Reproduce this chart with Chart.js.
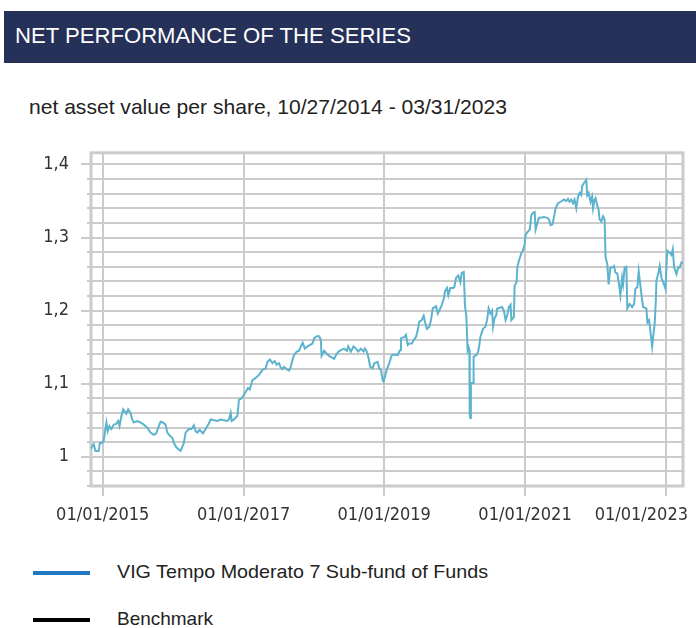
<!DOCTYPE html>
<html>
<head>
<meta charset="utf-8">
<script src="https://cdn.jsdelivr.net/npm/chart.js@4/dist/chart.umd.min.js"></script>
<style>
html,body{margin:0;padding:0;background:#fff;width:696px;height:628px;overflow:hidden;}
#hdr{position:absolute;left:4px;top:11px;width:692px;height:52px;background:#253158;}
.fit{display:inline-block;transform-origin:0 0;white-space:nowrap;}
#title{position:absolute;left:15px;top:25px;margin:0;color:#fff;font:22px/22px "Liberation Sans","DejaVu Sans",sans-serif;}
#sub{position:absolute;left:29px;top:96px;color:#222;font:21px/21px "Liberation Sans","DejaVu Sans",sans-serif;}
#wrap{position:absolute;left:0;top:130px;width:696px;height:410px;}
.lg{position:absolute;left:0;width:696px;height:19px;}
.lg i{position:absolute;left:33px;top:9px;width:57px;height:4px;}
.lg span{position:absolute;left:117px;top:0;font:19px/19px "Liberation Sans","DejaVu Sans",sans-serif;color:#222;}
</style>
</head>
<body>
<div id="hdr"></div>
<div id="title" class="fit" data-w="396">NET PERFORMANCE OF THE SERIES</div>
<div id="sub" class="fit" data-w="478">net asset value per share, 10/27/2014 - 03/31/2023</div>
<div id="wrap"><canvas id="c" width="696" height="410"></canvas></div>
<div id="legend"></div>
<script>
const seriesNames = ['VIG Tempo Moderato 7 Sub-fund of Funds', 'Benchmark'];
const legendWidths = [371, 96];
const dates = [
'2014-10-27','2014-11-15','2014-11-24','2014-12-11','2014-12-17','2014-12-29','2015-01-06','2015-01-15','2015-01-20','2015-01-27',
'2015-02-05','2015-02-15','2015-02-27','2015-03-12','2015-03-22','2015-03-29','2015-04-08','2015-04-17','2015-04-25','2015-05-03',
'2015-05-13','2015-05-25','2015-06-03','2015-06-11','2015-06-29','2015-07-16','2015-08-02','2015-08-20','2015-09-06','2015-09-23',
'2015-10-06','2015-10-16','2015-10-28','2015-11-09','2015-11-23','2015-12-02','2015-12-14','2015-12-28','2016-01-05','2016-01-18',
'2016-01-31','2016-02-09','2016-02-18','2016-02-26','2016-03-06','2016-03-23','2016-04-06','2016-04-18','2016-04-27','2016-05-06',
'2016-05-18','2016-06-04','2016-06-18','2016-07-02','2016-07-14','2016-07-31','2016-08-18','2016-09-04','2016-09-21','2016-10-09',
'2016-10-17','2016-10-26','2016-10-31','2016-11-12','2016-11-30','2016-12-08','2016-12-22','2017-01-03','2017-01-24','2017-02-02',
'2017-02-16','2017-03-05','2017-03-22','2017-04-09','2017-04-26','2017-05-05','2017-05-18','2017-05-31','2017-06-12','2017-06-22',
'2017-07-04','2017-07-13','2017-07-22','2017-07-30','2017-08-13','2017-08-25','2017-09-03','2017-09-12','2017-09-20','2017-10-04',
'2017-10-16','2017-10-25','2017-11-04','2017-11-15','2017-11-29','2017-12-12','2017-12-25','2018-01-02','2018-01-16','2018-01-28',
'2018-02-06','2018-02-10','2018-02-23','2018-03-09','2018-03-21','2018-04-03','2018-04-16','2018-04-25','2018-05-09','2018-05-21',
'2018-06-07','2018-06-21','2018-06-28','2018-07-12','2018-07-26','2018-08-07','2018-08-19','2018-09-02','2018-09-16','2018-09-23',
'2018-10-03','2018-10-12','2018-10-20','2018-11-02','2018-11-10','2018-11-28','2018-12-06','2018-12-15','2018-12-24','2018-12-29',
'2019-01-05','2019-01-14','2019-01-27','2019-02-09','2019-02-22','2019-03-12','2019-03-20','2019-03-26','2019-03-29','2019-04-16',
'2019-04-24','2019-05-03','2019-05-11','2019-05-25','2019-06-06','2019-06-15','2019-06-24','2019-07-02','2019-07-15','2019-07-25',
'2019-08-01','2019-08-11','2019-08-23','2019-09-01','2019-09-10','2019-09-27','2019-10-06','2019-10-14','2019-10-27','2019-11-06',
'2019-11-13','2019-11-23','2019-11-30','2019-12-10','2019-12-23','2019-12-31','2020-01-09','2020-01-21','2020-01-31','2020-02-08',
'2020-02-18','2020-02-24','2020-03-02','2020-03-09','2020-03-14','2020-03-18','2020-03-20','2020-03-23','2020-03-26','2020-04-06',
'2020-04-09','2020-04-23','2020-05-03','2020-05-10','2020-05-14','2020-05-28','2020-06-09','2020-06-18','2020-06-26','2020-07-05',
'2020-07-14','2020-07-19','2020-07-26','2020-08-05','2020-08-09','2020-08-23','2020-09-04','2020-09-13','2020-09-22','2020-10-01',
'2020-10-09','2020-10-18','2020-10-22','2020-11-04','2020-11-08','2020-11-18','2020-11-22','2020-11-30','2020-12-13','2020-12-21',
'2020-12-30','2021-01-04','2021-01-13','2021-01-26','2021-02-03','2021-02-11','2021-02-20','2021-02-25','2021-03-06','2021-03-14',
'2021-03-23','2021-04-09','2021-04-27','2021-05-05','2021-05-14','2021-05-23','2021-06-01','2021-06-09','2021-06-21','2021-07-05',
'2021-07-22','2021-08-03','2021-08-12','2021-08-20','2021-08-29','2021-09-07','2021-09-15','2021-09-24','2021-10-03','2021-10-11',
'2021-10-20','2021-10-24','2021-11-01','2021-11-10','2021-11-15','2021-11-20','2021-11-27','2021-12-07','2021-12-15','2021-12-20',
'2021-12-28','2022-01-02','2022-01-11','2022-01-18','2022-01-23','2022-02-01','2022-02-10','2022-02-18','2022-02-23','2022-03-04',
'2022-03-11','2022-03-20','2022-03-29','2022-04-08','2022-04-15','2022-04-25','2022-05-04','2022-05-11','2022-05-20','2022-05-25',
'2022-06-02','2022-06-11','2022-06-16','2022-06-28','2022-07-11','2022-07-21','2022-07-28','2022-08-07','2022-08-14','2022-08-23',
'2022-09-01','2022-09-06','2022-09-23','2022-09-28','2022-10-07','2022-10-15','2022-10-23','2022-10-29','2022-11-05','2022-11-11',
'2022-11-14','2022-11-23','2022-12-01','2022-12-10','2022-12-19','2022-12-31','2023-01-09','2023-01-22','2023-01-31','2023-02-07',
'2023-02-14','2023-02-26','2023-03-07','2023-03-15','2023-03-24','2023-03-31'
];
const navValues = [
1.010,1.017,1.008,1.008,1.019,1.019,1.022,1.038,1.047,1.035,
1.042,1.038,1.044,1.045,1.049,1.042,1.056,1.065,1.062,1.059,
1.065,1.060,1.051,1.047,1.049,1.047,1.044,1.040,1.033,1.030,
1.032,1.040,1.048,1.047,1.044,1.033,1.029,1.026,1.019,1.013,
1.010,1.008,1.014,1.019,1.033,1.038,1.038,1.043,1.035,1.033,
1.037,1.032,1.038,1.044,1.051,1.050,1.049,1.051,1.050,1.049,
1.051,1.060,1.049,1.051,1.056,1.078,1.080,1.085,1.094,1.092,
1.105,1.108,1.112,1.119,1.121,1.130,1.133,1.128,1.131,1.126,
1.128,1.122,1.120,1.123,1.120,1.118,1.123,1.133,1.139,1.144,
1.145,1.151,1.156,1.148,1.151,1.153,1.155,1.162,1.165,1.165,
1.160,1.138,1.145,1.141,1.138,1.136,1.134,1.139,1.144,1.146,
1.148,1.145,1.151,1.144,1.151,1.148,1.144,1.148,1.144,1.148,
1.144,1.135,1.123,1.121,1.128,1.130,1.121,1.119,1.105,1.103,
1.110,1.119,1.128,1.139,1.140,1.139,1.144,1.146,1.162,1.164,
1.167,1.153,1.155,1.155,1.161,1.164,1.173,1.185,1.187,1.193,
1.184,1.175,1.178,1.187,1.203,1.206,1.196,1.200,1.208,1.216,
1.227,1.231,1.221,1.231,1.231,1.232,1.245,1.248,1.239,1.252,
1.253,1.207,1.194,1.146,1.150,1.146,1.058,1.053,1.101,1.101,
1.137,1.139,1.144,1.155,1.164,1.175,1.178,1.187,1.203,1.196,
1.200,1.178,1.189,1.194,1.203,1.204,1.205,1.200,1.187,1.194,
1.205,1.208,1.187,1.191,1.234,1.239,1.259,1.268,1.279,1.282,
1.291,1.304,1.307,1.311,1.331,1.334,1.335,1.311,1.320,1.327,
1.327,1.328,1.327,1.325,1.317,1.318,1.329,1.340,1.347,1.349,
1.352,1.350,1.353,1.349,1.352,1.347,1.352,1.340,1.356,1.361,
1.358,1.370,1.374,1.377,1.379,1.358,1.361,1.349,1.356,1.340,
1.352,1.354,1.344,1.338,1.325,1.322,1.329,1.325,1.273,1.264,
1.236,1.259,1.259,1.261,1.252,1.251,1.236,1.221,1.245,1.236,
1.259,1.260,1.203,1.209,1.205,1.209,1.230,1.232,1.254,1.234,
1.214,1.205,1.203,1.184,1.187,1.169,1.151,1.166,1.182,1.214,
1.241,1.250,1.261,1.245,1.239,1.230,1.282,1.279,1.276,1.284,
1.259,1.250,1.259,1.259,1.266,1.265
];
const benchmarkValues = [];
const xTickDates = ['2015-01-01','2017-01-01','2019-01-01','2021-01-01','2023-01-01'];
const yGridValues = [0.96,0.98,1.00,1.02,1.04,1.06,1.08,1.10,1.12,1.14,1.16,1.18,1.20,1.22,1.24,1.26,1.28,1.30,1.32,1.34,1.36,1.38,1.40];
const yLabelValues = [1.0,1.1,1.2,1.3,1.4];
const yTickLabels = ['1','1,1','1,2','1,3','1,4'];
const xMin = '2014-11-01', xMax = '2023-04-01';
const yMin = 0.96, yMax = 1.416;

function ts(s){const p=s.split('-').map(Number);return Date.UTC(p[0],p[1]-1,p[2]);}
function pad(n){return (n<10?'0':'')+n;}
function fmtDate(t){const d=new Date(t);return pad(d.getUTCMonth()+1)+'/'+pad(d.getUTCDate())+'/'+d.getUTCFullYear();}
function labelIndex(v){for(let i=0;i<yLabelValues.length;i++){if(Math.abs(v-yLabelValues[i])<1e-6)return i;}return -1;}
function fitWidth(el, w){const cur = el.getBoundingClientRect().width; if(cur>0) el.style.transform='scaleX('+(w/cur)+')';}

const GRID='#cbcbcb';
const framePlugin = {
  id:'frame',
  beforeDraw(chart){
    const s = chart.scales.x;
    const items = s.getLabelItems(chart.chartArea);
    if(items.length){
      const last = items[items.length-1];
      last.options.textAlign = 'right';
      last.options.translation = [chart.width-8, last.options.translation[1]];
    }
  },
  beforeDatasetsDraw(chart){
    const {ctx, chartArea:a} = chart;
    const y = chart.scales.y;
    ctx.save();
    ctx.strokeStyle = GRID;
    ctx.lineWidth = 2;
    yGridValues.forEach(v=>{
      if(labelIndex(v)<0){
        const py = Math.round(y.getPixelForValue(v));
        ctx.beginPath();ctx.moveTo(a.left-4,py);ctx.lineTo(a.left,py);ctx.stroke();
      }
    });
    ctx.lineWidth = 3;
    ctx.strokeRect(a.left, a.top, a.right-a.left, a.bottom-a.top);
    ctx.restore();
  }
};

const chart = new Chart(document.getElementById('c'), {
  type:'line',
  data:{datasets:[
    {label:seriesNames[0], data:dates.map((d,i)=>({x:ts(d),y:navValues[i]})), borderColor:'#5cb3cd', borderWidth:2, pointRadius:0, tension:0, legendColor:'#1f78c1'},
    {label:seriesNames[1], data:benchmarkValues, borderColor:'#000000', borderWidth:2, pointRadius:0, legendColor:'#000000'}
  ]},
  options:{
    responsive:false, animation:false, devicePixelRatio:1,
    layout:{padding:{top:19,right:13,left:0,bottom:0}},
    plugins:{legend:{display:false}, tooltip:{enabled:false}},
    scales:{
      x:{type:'linear', min:ts(xMin), max:ts(xMax),
        afterBuildTicks(s){s.ticks = xTickDates.map(d=>({value:ts(d)}));},
        afterFit(s){s.height=54; s.paddingRight=0; s.paddingLeft=0;},
        grid:{color:GRID, lineWidth:2, tickLength:10, tickColor:GRID},
        border:{display:false},
        ticks:{font:{family:'DejaVu Sans Condensed', size:18}, color:'#333', padding:9, maxRotation:0, minRotation:0, autoSkip:false,
          callback:(v)=>fmtDate(v)}
      },
      y:{type:'linear', min:yMin, max:yMax,
        afterBuildTicks(s){s.ticks = yGridValues.map(v=>({value:v}));},
        afterFit(s){s.width=91;},
        grid:{color:GRID, lineWidth:2, tickLength:10, tickColor:(c)=> (c.tick && labelIndex(c.tick.value)>=0) ? GRID : 'rgba(0,0,0,0)'},
        border:{display:false},
        ticks:{font:{family:'DejaVu Sans Condensed', size:18}, color:'#333', padding:12, autoSkip:false,
          callback:(v)=>{const i=labelIndex(v);return i>=0?yTickLabels[i]:'';}}
      }
    }
  },
  plugins:[framePlugin]
});

const lg = document.getElementById('legend');
const tops = [562, 609];
chart.data.datasets.forEach((ds,i)=>{
  const row = document.createElement('div');
  row.className='lg'; row.style.top = tops[i]+'px';
  const mark = document.createElement('i'); mark.style.background = ds.legendColor;
  const txt = document.createElement('span'); txt.className='fit'; txt.textContent = ds.label;
  row.appendChild(mark); row.appendChild(txt); lg.appendChild(row);
  fitWidth(txt, legendWidths[i]);
});
document.querySelectorAll('#title,#sub').forEach(el=>fitWidth(el, Number(el.dataset.w)));
</script>
</body>
</html>
